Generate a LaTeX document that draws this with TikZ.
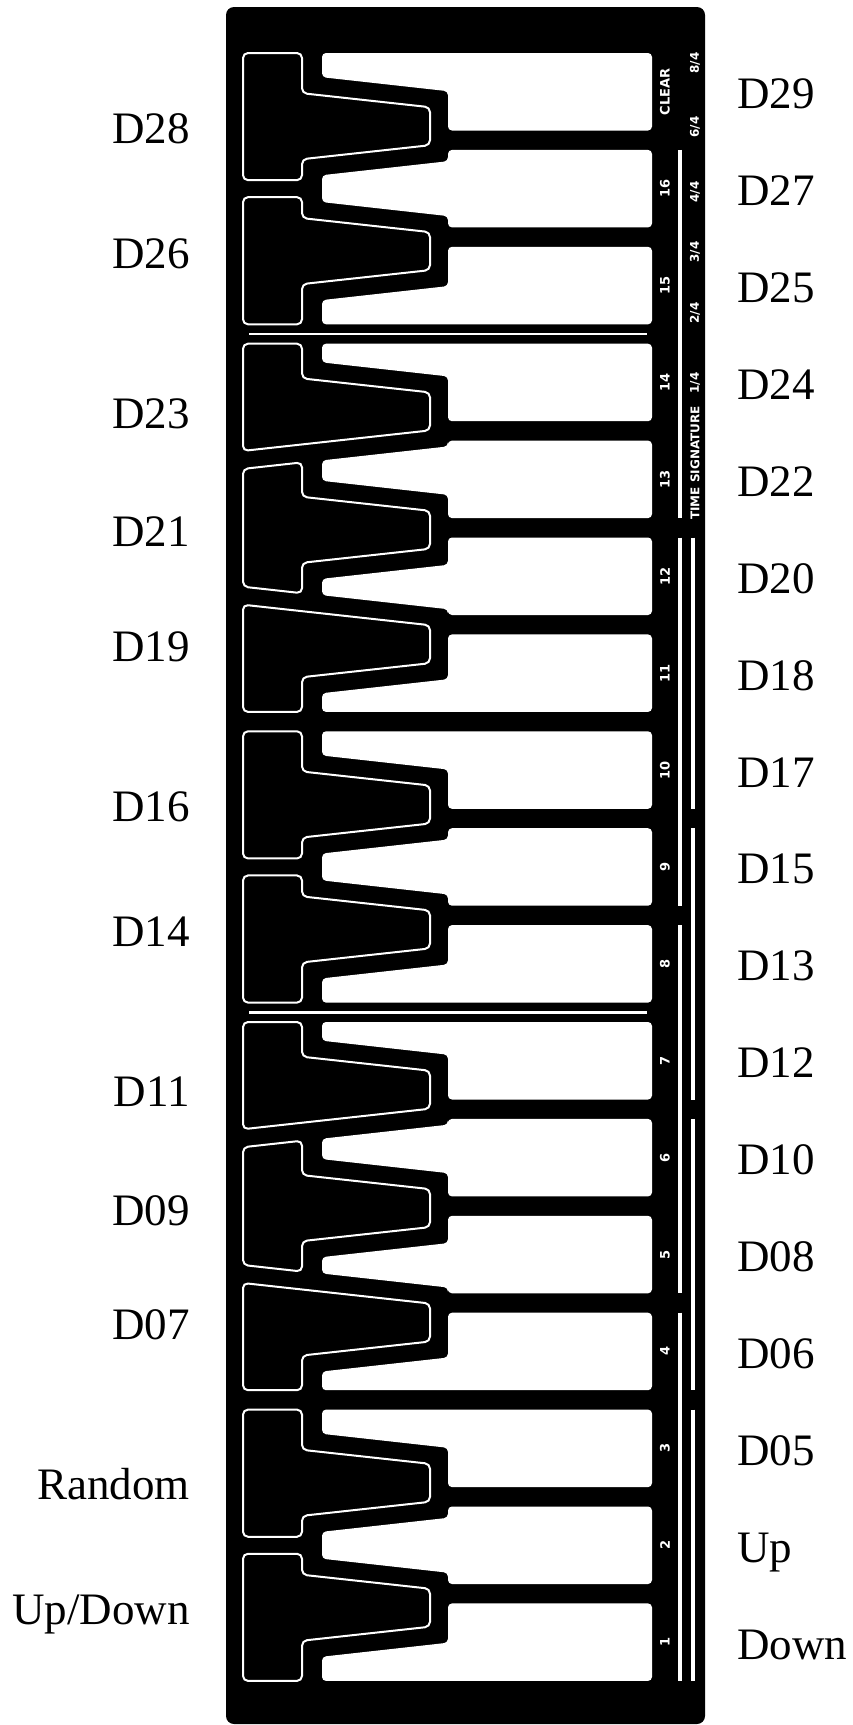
\documentclass[tikz,border=0pt]{standalone}
\usepackage{fontspec}
\setmainfont{Liberation Serif}
\newfontfamily\panelfont{DejaVu Sans}
\usetikzlibrary{positioning}
\tikzset{
  white key/.style={fill=white, rounded corners=4pt},
  black key/.style={fill=black, draw=white, line width=2pt, rounded corners=5pt},
  key number/.style={text=white, font=\panelfont\bfseries\fontsize{13}{13}\selectfont, rotate=90, inner sep=0pt},
  sig label/.style={key number, font=\panelfont\bfseries\fontsize{12}{12}\selectfont},
  pin left/.style={anchor=base east, inner sep=0pt, font=\fontsize{45}{54}\selectfont},
  pin right/.style={anchor=base west, inner sep=0pt, font=\fontsize{45}{54}\selectfont},
  group line/.style={white, line width=4pt},
  split line/.style={white, line width=2.5pt}
}
% black key outlines, #1 = centre of the tongue
\newcommand\sharpD[1]{(243,#1-73.2) -- (302,#1-73.2) -- (302,#1-33) -- (430,#1-19) -- (430,#1+19) -- (302,#1+33) -- (302,#1+53.95) -- (243,#1+53.95) -- cycle}
\newcommand\sharpC[1]{(243,#1-53.95) -- (302,#1-53.95) -- (302,#1-33) -- (430,#1-19) -- (430,#1+19) -- (302,#1+33) -- (302,#1+73.2) -- (243,#1+73.2) -- cycle}
\newcommand\sharpA[1]{(243,#1-67.7) -- (302,#1-67.7) -- (302,#1-33) -- (430,#1-19) -- (430,#1+19) -- (243,#1+39.5) -- cycle}
\newcommand\sharpG[1]{(243,#1-60.9) -- (302,#1-67.4) -- (302,#1-33) -- (430,#1-19) -- (430,#1+19) -- (302,#1+33) -- (302,#1+63.4) -- (243,#1+56.9) -- cycle}
\newcommand\sharpF[1]{(243,#1-39.5) -- (430,#1-19) -- (430,#1+19) -- (302,#1+33) -- (302,#1+67.7) -- (243,#1+67.7) -- cycle}

\begin{document}
\begin{tikzpicture}[x=1pt, y=-1pt]
  \fill[white] (0,0) rectangle (852,1725);
  \useasboundingbox (0,0) rectangle (852,1725);
  % panel
  \fill[black, rounded corners=8pt] (226,7) rectangle (705,1724);

  % white keys: number / tongue above / tongue below (x = none)
  \def\none{x}
  \foreach \n/\up/\dn [count=\i from 0] in {CLEAR/x/126.2, 16/126.2/251.1, 15/251.1/x, 14/x/411.4,
      13/411.4/529.8, 12/529.8/644.2, 11/644.2/x, 10/x/804.5, 9/804.5/929.4, 8/929.4/x,
      7/x/1089.7, 6/1089.7/1208.1, 5/1208.1/1322.5, 4/1322.5/x, 3/x/1482.8, 2/1482.8/1607.7, 1/1607.7/x}{
    \pgfmathsetmacro\T{53+96.9*\i}
    \ifx\up\none \def\upside{(322,\T)}\else \def\upside{(448,\T) -- (448,\up+35) -- (322,\up+49)}\fi
    \ifx\dn\none \def\downside{-- (322,\T+77.5)}\else \def\downside{-- (322,\dn-49) -- (448,\dn-35) -- (448,\T+77.5)}\fi
    \fill[white key] \upside \downside -- (652,\T+77.5) -- (652,\T) -- cycle;
    \node[key number] (key\n) at (665,\T+38.75) {\n};
  }

  % black keys
  \draw[black key] \sharpD{126.2};
  \node[pin left] (d28) at (190,126.2+17) {D28};
  \draw[black key] \sharpC{251.1};
  \node[pin left] (d26) at (190,251.1+17) {D26};
  \draw[black key] \sharpA{411.4};
  \node[pin left] (d23) at (190,411.4+17) {D23};
  \draw[black key] \sharpG{529.8};
  \node[pin left] (d21) at (190,529.8+17) {D21};
  \draw[black key] \sharpF{644.2};
  \node[pin left] (d19) at (190,644.2+17) {D19};
  \draw[black key] \sharpD{804.5};
  \node[pin left] (d16) at (190,804.5+17) {D16};
  \draw[black key] \sharpC{929.4};
  \node[pin left] (d14) at (190,929.4+17) {D14};
  \draw[black key] \sharpA{1089.7};
  \node[pin left] (d11) at (190,1089.7+17) {D11};
  \draw[black key] \sharpG{1208.1};
  \node[pin left] (d09) at (190,1208.1+17) {D09};
  \draw[black key] \sharpF{1322.5};
  \node[pin left] (d07) at (190,1322.5+17) {D07};
  \draw[black key] \sharpD{1482.8};
  \node[pin left] (random) at (190,1482.8+17) {Random};
  \draw[black key] \sharpC{1607.7};
  \node[pin left] (updown) at (190,1607.7+17) {Up/Down};

  % pins of the white keys
  \foreach \n/\txt [count=\i from 0] in {CLEAR/D29, 16/D27, 15/D25, 14/D24, 13/D22, 12/D20, 11/D18, 10/D17,
      9/D15, 8/D13, 7/D12, 6/D10, 5/D08, 4/D06, 3/D05, 2/Up, 1/Down}
    \node[pin right] (pin\n) at (737,53+96.9*\i+55.75) {\txt};

  % separators
  \draw[split line] (249,334) -- (647,334);
  \draw[split line] (249,1012.3) -- (647,1012.3);

  % bars of four and of three
  \draw[group line] (680,149.9) -- (680,518.1);
  \draw[group line] (680,537.5) -- (680,905.7);
  \draw[group line] (680,925.1) -- (680,1293.3);
  \draw[group line] (680,1312.7) -- (680,1680.9);
  \draw[group line] (693,537.5) -- (693,808.8);
  \draw[group line] (693,828.2) -- (693,1099.5);
  \draw[group line] (693,1118.9) -- (693,1390.2);
  \draw[group line] (693,1409.6) -- (693,1680.9);

  % time signature
  \node[sig label] (sig8) at (695,63) {8/4};
  \node[sig label] (sig6) at (695,127) {6/4};
  \node[sig label] (sig4) at (695,192) {4/4};
  \node[sig label] (sig3) at (695,252) {3/4};
  \node[sig label] (sig2) at (695,313) {2/4};
  \node[sig label] (sig1) at (695,383) {1/4};
  \node[sig label] (sigtitle) at (695,463) {TIME SIGNATURE};
\end{tikzpicture}
\end{document}
